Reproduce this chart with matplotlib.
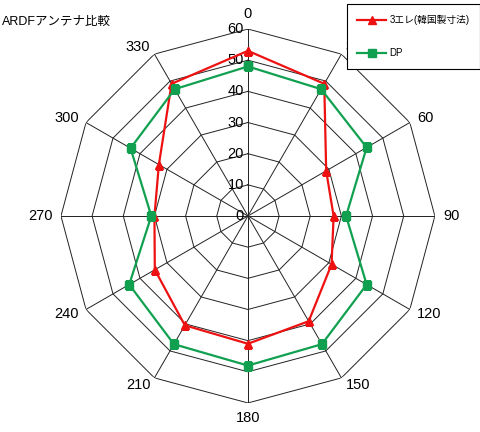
import numpy as np
import matplotlib.pyplot as plt
from matplotlib.transforms import offset_copy

plt.rcParams['font.family'] = ['Liberation Sans', 'Noto Sans CJK JP', 'DejaVu Sans']

# bearings (deg) and measured levels
angles = [0, 30, 60, 90, 120, 150, 180, 210, 240, 270, 300, 330]
ele3 = [53, 49, 29, 27.5, 31, 39, 41, 40.5, 34.5, 30, 33, 49]
dp = [48, 47, 44, 31.5, 44, 47.5, 48, 47.5, 44, 31, 43.5, 47]
rings = [0, 10, 20, 30, 40, 50, 60]

th = np.deg2rad(angles + [angles[0]])

fig = plt.figure(figsize=(4.8, 4.32), dpi=100)
ax = fig.add_axes([0.127, 0.067, 0.779, 0.866], projection='polar')
ax.set_theta_zero_location('N')
ax.set_theta_direction(-1)
ax.set_ylim(0, 60)
ax.grid(False)
ax.spines['polar'].set_visible(False)
ax.set_xticks([])
ax.set_yticks([])
ax.patch.set_alpha(0)

# polygon grid
for r in rings[1:]:
    ax.plot(th, [r] * len(th), color='#222222', lw=0.7, zorder=1)
for a in angles:
    ax.plot([np.deg2rad(a), np.deg2rad(a)], [0, 60], color='#222222', lw=0.7, zorder=1)

# radial labels
tr = offset_copy(ax.transData, fig=fig, x=-3, y=0, units='points')
for r in rings:
    ax.text(0, r, str(r), transform=tr, ha='right', va='center', fontsize=10.5)

# bearing labels just outside each vertex
gap = 6
for a in angles:
    s, c = np.sin(np.deg2rad(a)), np.cos(np.deg2rad(a))
    ha = 'left' if s > 0.1 else ('right' if s < -0.1 else 'center')
    va = 'bottom' if c > 0.95 else ('top' if c < -0.95 else 'center')
    t = offset_copy(ax.transData, fig=fig, x=gap * s, y=gap * c, units='points')
    ax.text(np.deg2rad(a), 60, str(a), transform=t, ha=ha, va=va,
            fontsize=10.5, clip_on=False)

ax.plot(th, ele3 + [ele3[0]], color='#ee1111', lw=1.6, marker='^', ms=6,
        label='3エレ(韓国製寸法)', zorder=3)
ax.plot(th, dp + [dp[0]], color='#11a050', lw=1.6, marker='s', ms=6,
        label='DP', zorder=3)

fig.text(0.004, 0.95, 'ARDFアンテナ比較', fontsize=9, ha='left', va='center')

leg = fig.legend(loc='upper left', bbox_to_anchor=(0.722, 0.99), fontsize=7,
                 frameon=True, fancybox=False, framealpha=1, labelspacing=2.4,
                 handlelength=3, borderpad=1.1, handletextpad=0.3, borderaxespad=0)
leg.get_frame().set_edgecolor('black')
leg.get_frame().set_linewidth(0.8)
leg.set_zorder(10)

fig.savefig('out.png', dpi=100)
